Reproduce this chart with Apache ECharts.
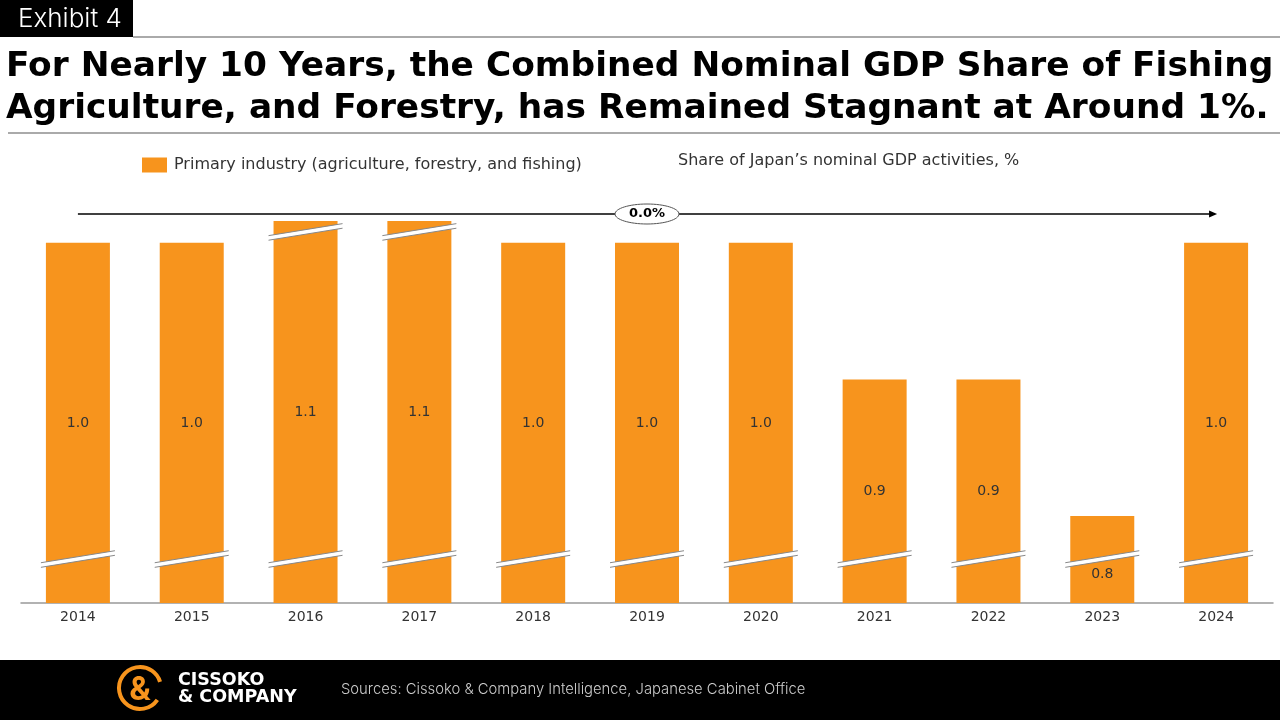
<!DOCTYPE html>
<html>
<head>
<meta charset="utf-8">
<title>Exhibit 4</title>
<script src="https://cdn.jsdelivr.net/npm/echarts@6/dist/echarts.min.js"></script>
<style>
  html, body { margin: 0; padding: 0; background: #fff; }
  #chart { width: 1280px; height: 720px; }
</style>
</head>
<body>
<div id="chart"></div>
<script>
var years = ['2014', '2015', '2016', '2017', '2018', '2019', '2020', '2021', '2022', '2023', '2024'];
var shares = [1.0, 1.0, 1.1, 1.1, 1.0, 1.0, 1.0, 0.9, 0.9, 0.8, 1.0];
var cagrLabel = '0.0%';

var FONT = '"DejaVu Sans", sans-serif';
var LIGHT = 'Inter, sans-serif';
var ORANGE = '#F7941D';

// visible part of the (broken) value axis
var axisMin = 0.7363;
var axisMax = 1.016;
var lowBreak = 0.7685;
var topBreak = 1.008;

var breakData = [];
years.forEach(function (y, i) {
    breakData.push([i, lowBreak]);
    if (shares[i] > axisMax) breakData.push([i, topBreak]);
});

var barData = shares.map(function (v, i) {
    var d = { value: v };
    if (v < 0.85) d.label = { offset: [0, 15] };
    return d;
});

var chart = echarts.init(document.getElementById('chart'));

var option = {
    backgroundColor: '#fff',
    animation: false,
    textStyle: { fontFamily: FONT },
    grid: { left: 21, right: 7, top: 221, bottom: 117 },
    legend: {
        left: 137, top: 152,
        itemWidth: 25, itemHeight: 15,
        itemGap: 6,
        icon: 'rect',
        textStyle: { fontSize: 16, color: '#333', fontFamily: FONT, padding: [0, 0, 0, 2] },
        data: ['Primary industry (agriculture, forestry, and fishing)']
    },
    xAxis: {
        type: 'category',
        data: years,
        axisLine: { lineStyle: { color: '#999', width: 1.5 } },
        axisTick: { show: false },
        axisLabel: { fontSize: 14, color: '#333', margin: 7 }
    },
    yAxis: {
        type: 'value',
        min: axisMin,
        max: axisMax,
        show: false,
        splitLine: { show: false }
    },
    series: [{
        name: 'Primary industry (agriculture, forestry, and fishing)',
        type: 'bar',
        data: barData,
        barWidth: 64,
        clip: true,
        itemStyle: { color: ORANGE },
        label: {
            show: true,
            position: 'inside',
            color: '#333',
            fontSize: 14,
            formatter: function (p) { return p.value.toFixed(1); }
        }
    }, {
        type: 'custom',
        data: breakData,
        silent: true,
        z: 5,
        renderItem: function (params, api) {
            var c = api.coord([api.value(0), api.value(1)]);
            var half = 37, rise = 6, gap = 2.3;
            var x1 = c[0] - half, x2 = c[0] + half;
            return {
                type: 'group',
                children: [{
                    type: 'polygon',
                    shape: { points: [[x1, c[1] + rise - gap], [x2, c[1] - rise - gap], [x2, c[1] - rise + gap], [x1, c[1] + rise + gap]] },
                    style: { fill: '#fff' }
                }, {
                    type: 'line',
                    shape: { x1: x1, y1: c[1] + rise - gap, x2: x2, y2: c[1] - rise - gap },
                    style: { stroke: '#888', lineWidth: 1 }
                }, {
                    type: 'line',
                    shape: { x1: x1, y1: c[1] + rise + gap, x2: x2, y2: c[1] - rise + gap },
                    style: { stroke: '#888', lineWidth: 1 }
                }]
            };
        }
    }]
};
chart.setOption(option);

var xa = chart.convertToPixel({ xAxisIndex: 0 }, years[0]);
var xb = chart.convertToPixel({ xAxisIndex: 0 }, years[years.length - 1]);
var arrowY = 214;

chart.setOption({
    graphic: [
        // header
        { type: 'rect', shape: { x: 0, y: 0, width: 133, height: 37 }, style: { fill: '#000' } },
        { type: 'text', x: 18, y: 19, style: { text: 'Exhibit 4', fill: '#fff', font: '300 26px ' + LIGHT, textVerticalAlign: 'middle' } },
        { type: 'line', shape: { x1: 133, y1: 37, x2: 1280, y2: 37 }, style: { stroke: '#aaa', lineWidth: 2 } },
        { type: 'text', x: 6, y: 67, style: { text: 'For Nearly 10 Years, the Combined Nominal GDP Share of Fishing', fill: '#000', font: 'bold 34.4px ' + FONT, textVerticalAlign: 'middle' } },
        { type: 'text', x: 6, y: 109, style: { text: 'Agriculture, and Forestry, has Remained Stagnant at Around 1%.', fill: '#000', font: 'bold 34.4px ' + FONT, textVerticalAlign: 'middle' } },
        { type: 'line', shape: { x1: 8, y1: 133, x2: 1280, y2: 133 }, style: { stroke: '#aaa', lineWidth: 2 } },
        { type: 'text', x: 678, y: 161, style: { text: 'Share of Japan\u2019s nominal GDP activities, %', fill: '#333', font: '16px ' + FONT, textVerticalAlign: 'middle' } },
        // CAGR arrow
        { type: 'line', shape: { x1: xa, y1: arrowY, x2: xb - 6, y2: arrowY }, style: { stroke: '#000', lineWidth: 1.5 } },
        { type: 'polygon', shape: { points: [[xb + 1, arrowY], [xb - 7, arrowY - 3.5], [xb - 7, arrowY + 3.5]] }, style: { fill: '#000' } },
        { type: 'ellipse', shape: { cx: 647, cy: arrowY, rx: 32, ry: 10 }, style: { fill: '#fff', stroke: '#555', lineWidth: 1 } },
        { type: 'text', x: 647, y: arrowY, style: { text: cagrLabel, fill: '#000', font: 'bold 13px ' + FONT, textAlign: 'center', textVerticalAlign: 'middle' } },
        // footer
        { type: 'rect', shape: { x: 0, y: 660, width: 1280, height: 60 }, style: { fill: '#000' } },
        { type: 'arc', shape: { cx: 140, cy: 688, r: 21, startAngle: 0.6, endAngle: 2 * Math.PI - 0.3 }, style: { stroke: ORANGE, lineWidth: 4, fill: null } },
        { type: 'text', x: 140, y: 690, style: { text: '&', fill: ORANGE, font: 'bold 32px ' + LIGHT, textAlign: 'center', textVerticalAlign: 'middle' } },
        { type: 'text', x: 178, y: 680, style: { text: 'CISSOKO', fill: '#fff', font: 'bold 17.5px ' + FONT, textVerticalAlign: 'middle' } },
        { type: 'text', x: 178, y: 697, style: { text: '& COMPANY', fill: '#fff', font: 'bold 17.5px ' + FONT, textVerticalAlign: 'middle' } },
        { type: 'text', x: 341, y: 690, style: { text: 'Sources: Cissoko & Company Intelligence, Japanese Cabinet Office', fill: '#ccc', font: '300 14.8px ' + LIGHT, textVerticalAlign: 'middle' } }
    ]
});
</script>
</body>
</html>
